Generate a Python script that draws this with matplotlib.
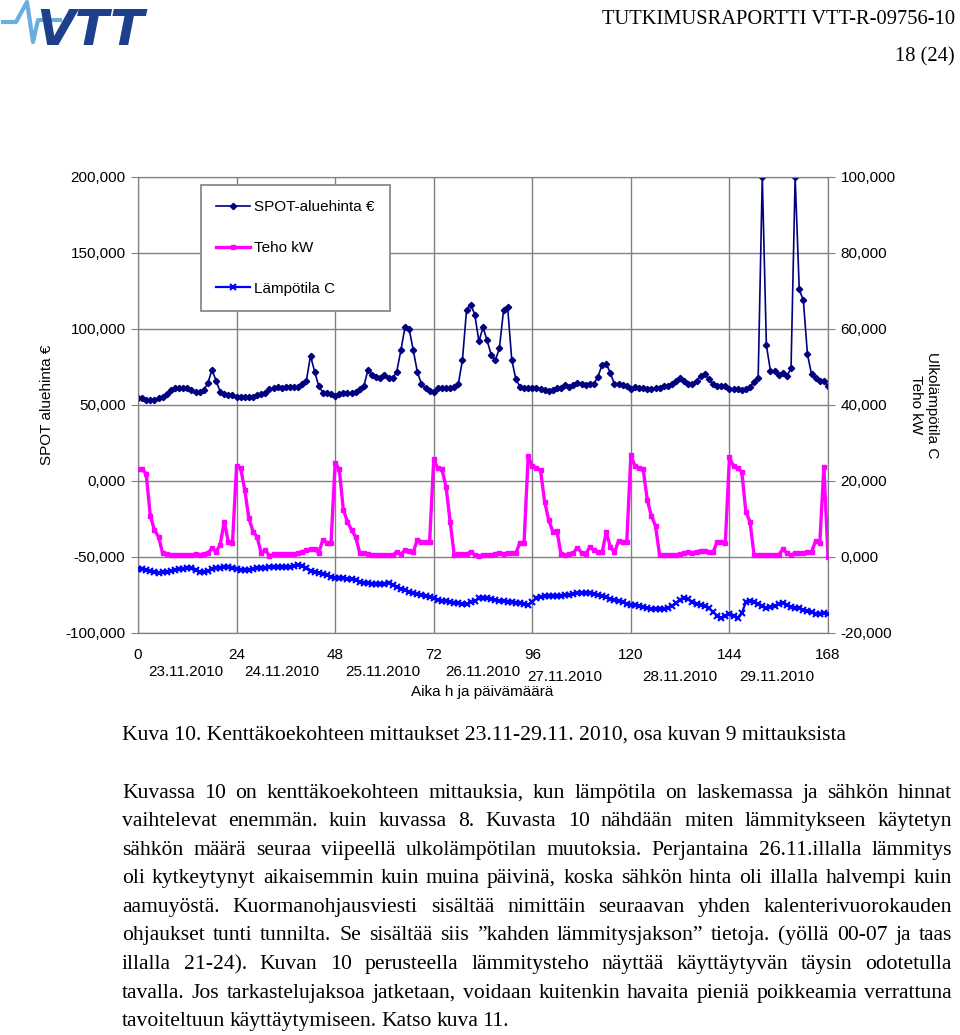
import numpy as np
import matplotlib.pyplot as plt
from matplotlib.lines import Line2D
from matplotlib.ticker import FuncFormatter

# tunnit 0..168
hours = np.arange(0, 169)

spot = [54.4, 54.4, 53.3, 53.3, 53.3, 54.4, 55.5, 57.0, 59.9, 61.0,
        61.0, 61.0, 61.0, 59.9, 58.8, 58.8, 59.9, 64.3, 73.1, 66.1,
        58.8, 57.0, 56.6, 56.6, 55.5, 55.5, 55.5, 55.5, 55.5, 56.6,
        57.0, 58.2, 60.4, 61.0, 61.7, 61.0, 61.7, 61.7, 61.7, 62.1,
        63.9, 66.1, 82.4, 72.0, 62.6, 58.2, 57.7, 57.0, 55.9, 57.3,
        57.7, 57.7, 57.7, 58.8, 60.4, 62.6, 73.1, 69.8, 68.3, 67.6,
        69.8, 67.6, 67.6, 72.0, 85.9, 101.1, 100.2, 86.3, 72.0, 63.9,
        61.0, 59.5, 58.8, 61.0, 61.0, 61.0, 61.0, 62.1, 63.9, 79.7,
        112.8, 116.1, 109.5, 91.9, 101.1, 92.5, 83.0, 79.3, 87.5, 112.3,
        114.3, 79.7, 67.0, 62.1, 61.0, 61.0, 61.0, 61.0, 60.4, 59.9,
        59.5, 59.9, 61.0, 61.0, 63.2, 62.1, 63.2, 64.8, 63.9, 63.2,
        63.9, 63.9, 68.7, 76.5, 77.2, 71.0, 63.8, 63.6, 63.4, 62.5,
        60.7, 61.8, 61.4, 61.0, 60.7, 60.7, 61.0, 61.4, 62.5, 62.5,
        63.6, 65.8, 68.0, 65.8, 64.0, 63.6, 65.8, 69.1, 70.6, 66.9,
        63.6, 62.5, 62.5, 62.5, 60.3, 60.7, 60.3, 59.9, 60.3, 61.8,
        65.1, 68.0, 200.0, 89.2, 72.3, 72.3, 69.5, 70.8, 69.1, 74.1,
        200.0, 126.0, 118.8, 83.3, 70.1, 68.0, 65.8, 65.8, 62.5]

teho = [23.1, 23.2, 21.8, 10.8, 7.1, 5.3, 1.0, 0.8, 0.5, 0.4,
        0.4, 0.4, 0.4, 0.4, 0.7, 0.5, 0.7, 1.0, 2.3, 1.4,
        3.2, 9.3, 4.0, 3.6, 23.9, 23.3, 17.6, 10.2, 6.7, 5.3,
        1.0, 1.8, 0.3, 0.7, 0.7, 0.7, 0.7, 0.7, 0.8, 1.0,
        1.4, 1.8, 2.0, 2.0, 1.1, 4.5, 3.8, 3.6, 24.8, 23.1,
        12.4, 9.3, 7.1, 5.3, 1.0, 1.0, 0.8, 0.4, 0.4, 0.4,
        0.4, 0.4, 0.4, 1.4, 0.7, 1.8, 1.6, 1.2, 4.5, 4.0,
        3.9, 3.9, 25.7, 23.3, 23.1, 18.5, 9.3, 0.5, 0.7, 0.7,
        0.7, 1.4, 0.5, 0.3, 0.4, 0.5, 0.5, 0.7, 1.0, 0.8,
        1.0, 1.0, 1.0, 3.8, 3.8, 26.6, 23.9, 23.3, 22.9, 14.6,
        9.7, 6.7, 6.9, 0.7, 0.5, 0.7, 1.1, 2.5, 1.1, 0.7,
        2.7, 1.8, 1.4, 1.2, 6.5, 2.7, 1.2, 4.2, 4.0, 3.9,
        26.8, 23.9, 23.3, 23.1, 15.0, 10.8, 8.2, 0.5, 0.4, 0.4,
        0.4, 0.5, 0.7, 1.0, 1.2, 1.1, 1.4, 1.6, 1.6, 1.4,
        1.2, 4.0, 4.0, 3.6, 26.2, 23.9, 23.3, 22.5, 11.9, 9.3,
        0.5, 0.5, 0.5, 0.5, 0.5, 0.5, 0.5, 2.1, 1.0, 0.5,
        1.0, 1.0, 1.1, 1.2, 1.4, 4.3, 3.6, 23.8, 0.1]

temp = [-3.2, -3.2, -3.4, -3.6, -3.9, -4.3, -4.0, -3.9, -3.7, -3.4,
        -3.2, -3.2, -3.0, -3.0, -3.4, -3.9, -4.0, -3.7, -3.2, -3.0,
        -2.8, -2.5, -2.6, -2.8, -3.2, -3.3, -3.4, -3.3, -3.2, -3.0,
        -2.8, -2.8, -2.7, -2.6, -2.6, -2.6, -2.5, -2.5, -2.4, -2.1,
        -2.3, -2.8, -3.7, -4.0, -4.3, -4.6, -4.7, -5.2, -5.4, -5.4,
        -5.6, -5.8, -5.9, -6.1, -6.5, -6.9, -6.8, -7.0, -7.2, -7.2,
        -7.0, -6.8, -7.4, -7.9, -8.3, -8.7, -9.1, -9.5, -9.8, -10.1,
        -10.3, -10.6, -10.9, -11.2, -11.5, -11.7, -11.8, -12.0, -12.2, -12.4,
        -12.3, -11.9, -11.6, -10.9, -10.7, -10.9, -11.1, -11.2, -11.5, -11.7,
        -11.8, -11.9, -12.0, -12.1, -12.3, -12.5, -11.8, -10.8, -10.5, -10.3,
        -10.3, -10.2, -10.2, -10.2, -10.1, -10.0, -9.8, -9.6, -9.5, -9.4,
        -9.6, -9.8, -10.0, -10.3, -10.6, -11.0, -11.3, -11.7, -11.9, -12.3,
        -12.6, -12.7, -12.9, -13.1, -13.3, -13.6, -13.8, -13.8, -13.7, -13.3,
        -12.8, -12.2, -11.3, -10.7, -11.0, -11.8, -12.4, -12.7, -13.0, -13.5,
        -14.4, -15.4, -16.1, -15.4, -15.1, -15.5, -16.0, -14.8, -11.9, -11.6,
        -11.8, -12.3, -12.8, -13.5, -13.2, -12.8, -12.4, -12.0, -12.6, -13.2,
        -13.3, -13.5, -13.9, -14.2, -14.6, -15.0, -14.9, -14.7, -15.1]

x_ticks = [0, 24, 48, 72, 96, 120, 144, 168]
dates = ["23.11.2010", "24.11.2010", "25.11.2010", "26.11.2010",
         "27.11.2010", "28.11.2010", "29.11.2010"]
date_x = [11.6, 35.0, 59.6, 83.9, 103.9, 131.9, 155.5]
date_y = [-0.085, -0.085, -0.085, -0.085, -0.096, -0.096, -0.096]

caption = "Kuva 10. Kenttäkoekohteen mittaukset 23.11-29.11. 2010, osa kuvan 9 mittauksista"
paragraph = [
    "Kuvassa 10 on kenttäkoekohteen mittauksia, kun lämpötila on laskemassa ja sähkön hinnat",
    "vaihtelevat enemmän. kuin kuvassa 8. Kuvasta 10 nähdään miten lämmitykseen käytetyn",
    "sähkön määrä seuraa viipeellä ulkolämpötilan muutoksia. Perjantaina 26.11.illalla lämmitys",
    "oli kytkeytynyt aikaisemmin kuin muina päivinä, koska sähkön hinta oli illalla halvempi kuin",
    "aamuyöstä. Kuormanohjausviesti sisältää nimittäin seuraavan yhden kalenterivuorokauden",
    "ohjaukset tunti tunnilta. Se sisältää siis \u201dkahden lämmitysjakson\u201d tietoja. (yöllä 00-07 ja taas",
    "illalla 21-24). Kuvan 10 perusteella lämmitysteho näyttää käyttäytyvän täysin odotetulla",
    "tavalla. Jos tarkastelujaksoa jatketaan, voidaan kuitenkin havaita pieniä poikkeamia verrattuna",
    "tavoiteltuun käyttäytymiseen. Katso kuva 11.",
]

W, H = 960, 1035
plt.rcParams['font.family'] = ['Liberation Sans', 'DejaVu Sans']
fig = plt.figure(figsize=(W / 100, H / 100), dpi=100)


def fx(px):
    return px / W


def fy(py):
    return 1 - py / H


ax = fig.add_axes([fx(138), fy(633), fx(828) - fx(138), fy(177) - fy(633)])
ax2 = ax.twinx()

grid_c = '#808080'
ax.plot(hours, spot, color='#000080', lw=1.2, marker='D', ms=3.2, zorder=3)
ax2.plot(hours, teho, color='#ff00ff', lw=2.4, marker='s', ms=2.2, zorder=3)
ax2.plot(hours, temp, color='#0000ff', lw=1.6, marker='x', ms=4, mew=1.5, zorder=3)

ax.set_xlim(0, 168)
ax.set_ylim(-100, 200)
ax2.set_ylim(-20, 100)
ax.set_xticks(x_ticks)
ax.set_yticks(np.arange(-100, 201, 50))
ax2.set_yticks(np.arange(-20, 101, 20))
fmt = FuncFormatter(lambda v, p: f"{v:.3f}".replace('.', ','))
ax.yaxis.set_major_formatter(fmt)
ax2.yaxis.set_major_formatter(fmt)
ax.grid(True, color=grid_c, lw=1)
ax.set_axisbelow(True)
for a in (ax, ax2):
    for s in a.spines.values():
        s.set_color(grid_c)
    a.tick_params(colors=grid_c, labelcolor='black', labelsize=11, length=5)
ax.tick_params(axis='y', pad=4)
ax2.tick_params(axis='y', pad=4)
ax.tick_params(axis='x', length=0, pad=11)

for d, xd, yd in zip(dates, date_x, date_y):
    ax.text(xd, yd, d, transform=ax.get_xaxis_transform(), ha='center', va='center', fontsize=11)
ax.text(83.8, -0.13, "Aika h ja päivämäärä", transform=ax.get_xaxis_transform(),
        ha='center', va='center', fontsize=11)

fig.text(fx(47), fy(405), "SPOT aluehinta €", rotation=90, ha='center', va='center', fontsize=11)
fig.text(fx(924), fy(405), "Ulkolämpötila C\nTeho kW", rotation=270, ha='center', va='center',
         fontsize=11, multialignment='center', linespacing=1.15)

handles = [Line2D([], [], color='#000080', lw=1.2, marker='D', ms=3.2),
           Line2D([], [], color='#ff00ff', lw=2.4, marker='s', ms=2.2),
           Line2D([], [], color='#0000ff', lw=1.6, marker='x', ms=4, mew=1.5)]
leg = fig.legend(handles, ["SPOT-aluehinta €", "Teho kW", "Lämpötila C"],
                 loc='upper left', bbox_to_anchor=(fx(201), fy(185)), fontsize=11,
                 frameon=True, fancybox=False, framealpha=1, edgecolor=grid_c,
                 labelspacing=1.75, handlelength=2.2, handletextpad=0.3,
                 borderpad=1.0, borderaxespad=0)
leg.get_frame().set_linewidth(1.2)
leg.set_zorder(10)

# otsikkotiedot ja logo
fig.text(fx(955), fy(20), "TUTKIMUSRAPORTTI VTT-R-09756-10", ha='right', va='center',
         fontsize=14.8, family='Liberation Serif')
fig.text(fx(955), fy(57), "18 (24)", ha='right', va='center', fontsize=14.8, family='Liberation Serif')
fig.add_artist(Line2D([fx(3), fx(16), fx(27), fx(33), fx(38), fx(60)],
                      [fy(22), fy(22), fy(2), fy(42), fy(20), fy(20)],
                      color='#6aaee0', lw=3, transform=fig.transFigure))
fig.text(fx(36), fy(31), "VTT", ha='left', va='center', fontsize=36, fontweight='bold',
         fontstyle='italic', color='#1e3f8c', family='DejaVu Sans')

serif = dict(fontsize=15.6, family='Liberation Serif')
fig.text(fx(122), fy(735), caption, ha='left', va='center', **serif)

renderer = fig.canvas.get_renderer()
x0, x1 = 122, 952
baseline_y = [798, 826, 855, 883, 912, 940, 969, 998, 1026]
for i, (line, ly) in enumerate(zip(paragraph, baseline_y)):
    words = line.split(' ')
    texts = [fig.text(0, fy(ly), w, ha='left', va='baseline', **serif) for w in words]
    widths = [t.get_window_extent(renderer).width for t in texts]
    if i < len(paragraph) - 1:
        gap = (x1 - x0 - sum(widths)) / (len(words) - 1)
    else:
        gap = 4.5
    xp = x0
    for t, wd in zip(texts, widths):
        t.set_x(fx(xp))
        xp += wd + gap

fig.savefig("out.png", dpi=100)
